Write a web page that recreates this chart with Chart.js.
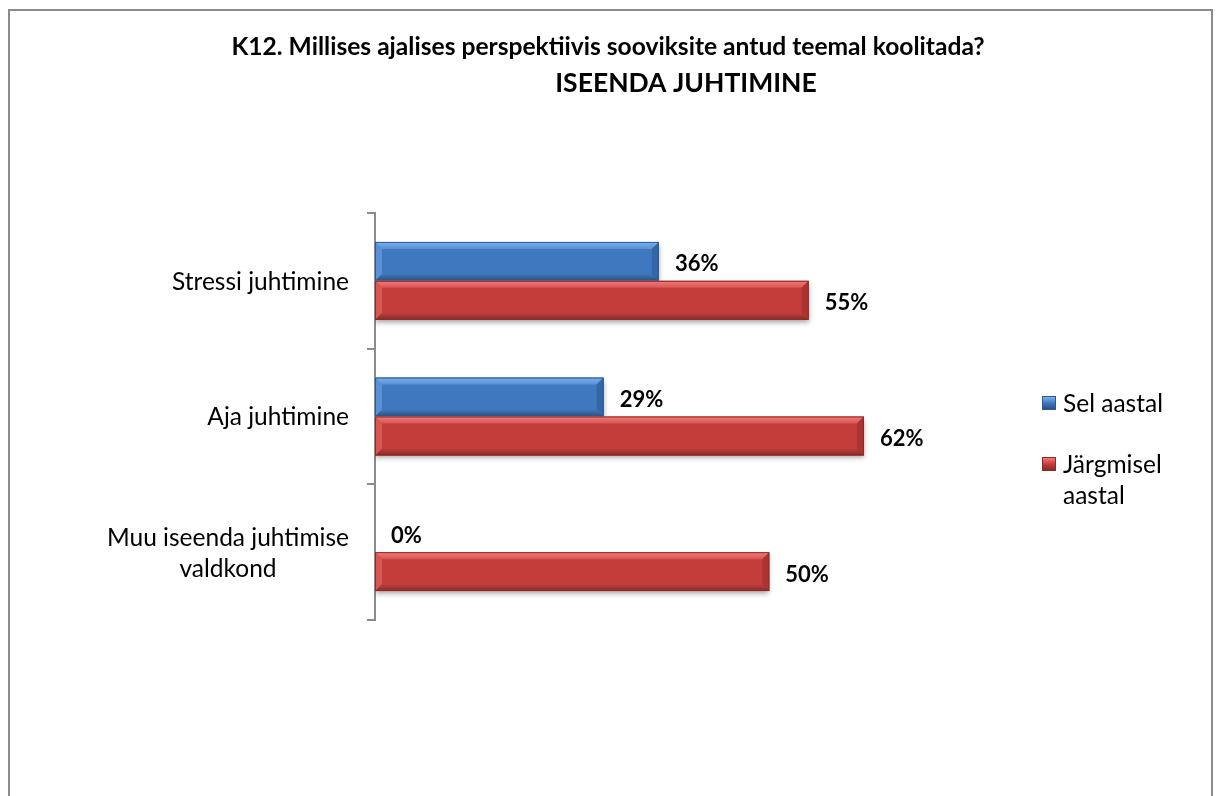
<!DOCTYPE html>
<html>
<head>
<meta charset="utf-8">
<title>K12 – Iseenda juhtimine</title>
<script src="https://cdn.jsdelivr.net/npm/chart.js@4"></script>
<style>
    html, body { margin: 0; padding: 0; background: #fff; overflow: hidden; }
    #wrap { position: relative; width: 1216px; height: 796px; }
    #frame {
        position: absolute; left: 8px; top: 9px; width: 1201px; height: 820px;
        border: 2px solid #8c8c8c; pointer-events: none;
    }
    #legend {
        position: absolute; left: 1042px; top: 387px;
        font-family: "Lato", "Open Sans", sans-serif; font-size: 24.5px; color: #000;
    }
    .item { display: flex; align-items: flex-start; margin-bottom: 30px; line-height: 31px; }
    .box { width: 14px; height: 14px; margin-top: 9px; margin-right: 7px; box-sizing: border-box; }
</style>
</head>
<body>
<div id="wrap">
    <canvas id="chart" width="1216" height="796"></canvas>
    <div id="frame"></div>
    <div id="legend"></div>
</div>
<script>
const categories = [["Stressi juhtimine"], ["Aja juhtimine"], ["Muu iseenda juhtimise", "valdkond"]];
const seriesNames = ["Sel aastal", ["Järgmisel", "aastal"]];
const selAastal = [36, 29, 0];
const jargmiselAastal = [55, 62, 50];
const titleLines = ["K12. Millises ajalises perspektiivis sooviksite antud teemal koolitada?", "ISEENDA JUHTIMINE"];

const FONT = '"Lato", "Open Sans", sans-serif';
const palette = [
    { body: "#3f78bf", light: "#79b2ee", dark: "#29507f", side: "#5a90d4", right: "#3466a6", edge: "#2b5a93" },
    { body: "#c33d3b", light: "#f47a77", dark: "#872a28", side: "#d85654", right: "#a93432", edge: "#8e2a28" },
];

// bevelled look on top of the plain bars
const bevelPlugin = {
    id: "bevel",
    beforeDatasetsDraw(chart) {
        const ctx = chart.ctx;
        ctx.save();
        ctx.shadowColor = "rgba(0,0,0,0.35)";
        ctx.shadowBlur = 5;
        ctx.shadowOffsetY = 3;
    },
    afterDatasetsDraw(chart) {
        const ctx = chart.ctx;
        ctx.restore();
        chart.data.datasets.forEach((ds, di) => {
            const col = palette[di];
            chart.getDatasetMeta(di).data.forEach((bar) => {
                const { x, y, base, height } = bar.getProps(["x", "y", "base", "height"], true);
                const left = Math.min(x, base), right = Math.max(x, base);
                if (right - left < 1) return;
                const top = y - height / 2, bottom = y + height / 2;
                const b = Math.min(7, (right - left) / 2);
                const poly = (pts, fill) => {
                    ctx.beginPath();
                    ctx.moveTo(pts[0][0], pts[0][1]);
                    pts.slice(1).forEach((p) => ctx.lineTo(p[0], p[1]));
                    ctx.closePath();
                    ctx.fillStyle = fill;
                    ctx.fill();
                };
                ctx.save();
                const topGrad = ctx.createLinearGradient(0, top, 0, top + b);
                topGrad.addColorStop(0, col.light);
                topGrad.addColorStop(1, col.side);
                poly([[left, top], [right, top], [right - b, top + b], [left + b, top + b]], topGrad);
                const botGrad = ctx.createLinearGradient(0, bottom - b, 0, bottom);
                botGrad.addColorStop(0, col.body);
                botGrad.addColorStop(1, col.dark);
                poly([[left, bottom], [right, bottom], [right - b, bottom - b], [left + b, bottom - b]], botGrad);
                poly([[left, top], [left + b, top + b], [left + b, bottom - b], [left, bottom]], col.side);
                poly([[right, top], [right - b, top + b], [right - b, bottom - b], [right, bottom]], col.right);
                ctx.strokeStyle = col.edge;
                ctx.lineWidth = 1;
                ctx.strokeRect(left + 0.5, top + 0.5, right - left - 1, bottom - top - 1);
                ctx.restore();
            });
        });
    },
};

// value labels after each bar
const valueLabels = {
    id: "valueLabels",
    afterDraw(chart) {
        const ctx = chart.ctx;
        ctx.save();
        ctx.font = "bold 22px " + FONT;
        ctx.fillStyle = "#000";
        ctx.textAlign = "left";
        ctx.textBaseline = "middle";
        chart.data.datasets.forEach((ds, di) => {
            chart.getDatasetMeta(di).data.forEach((bar, i) => {
                ctx.fillText(ds.data[i] + "%", bar.x + 16, bar.y + 3);
            });
        });
        ctx.restore();
    },
};

// category names left of the axis, lines centred within the block
const categoryLabels = {
    id: "categoryLabels",
    afterDraw(chart) {
        const ctx = chart.ctx;
        const yScale = chart.scales.y;
        const right = yScale.right - 26;
        const lineH = 31;
        ctx.save();
        ctx.font = "24.5px " + FONT;
        ctx.fillStyle = "#000";
        ctx.textAlign = "center";
        ctx.textBaseline = "middle";
        categories.forEach((lines, i) => {
            const cy = yScale.getPixelForValue(i);
            const w = Math.max(...lines.map((l) => ctx.measureText(l).width));
            const cx = right - w / 2;
            lines.forEach((l, k) => {
                ctx.fillText(l, cx, cy + (k - (lines.length - 1) / 2) * lineH + 1);
            });
        });
        ctx.restore();
    },
};

const titlePlugin = {
    id: "twoLineTitle",
    afterDraw(chart) {
        const ctx = chart.ctx;
        ctx.save();
        ctx.fillStyle = "#000";
        ctx.textAlign = "center";
        ctx.textBaseline = "alphabetic";
        ctx.font = "bold 24.6px " + FONT;
        ctx.fillText(titleLines[0], 608, 55);
        ctx.font = "bold 26.5px " + FONT;
        ctx.fillText(titleLines[1], 686, 92);
        ctx.restore();
    },
};

const ctx = document.getElementById("chart").getContext("2d");
new Chart(ctx, {
    type: "bar",
    data: {
        labels: categories.map((c) => c.join(" ")),
        datasets: [
            {
                label: "Sel aastal",
                data: selAastal,
                backgroundColor: palette[0].body,
                borderWidth: 0,
            },
            {
                label: "Järgmisel aastal",
                data: jargmiselAastal,
                backgroundColor: palette[1].body,
                borderWidth: 0,
            },
        ],
    },
    options: {
        indexAxis: "y",
        responsive: false,
        animation: false,
        events: [],
        layout: { padding: { left: 367, right: 289, top: 213, bottom: 176 } },
        datasets: { bar: { categoryPercentage: 0.574, barPercentage: 1.0 } },
        scales: {
            x: { display: false, min: 0, max: 70 },
            y: {
                grid: {
                    offset: true,
                    drawOnChartArea: false,
                    tickLength: 8,
                    color: "#8c8c8c",
                    lineWidth: 2,
                },
                border: { display: true, color: "#8c8c8c", width: 2 },
                ticks: { display: false },
            },
        },
        plugins: {
            legend: { display: false },
            title: { display: false },
            tooltip: { enabled: false },
        },
    },
    plugins: [bevelPlugin, valueLabels, categoryLabels, titlePlugin],
});

// legend as html so the long name can wrap
const legendEl = document.getElementById("legend");
seriesNames.forEach((name, i) => {
    const item = document.createElement("div");
    item.className = "item";
    const box = document.createElement("div");
    box.className = "box";
    box.style.background = `linear-gradient(${palette[i].light}, ${palette[i].body} 50%, ${palette[i].dark})`;
    box.style.border = `1px solid ${palette[i].edge}`;
    const txt = document.createElement("div");
    txt.innerHTML = [].concat(name).join("<br>");
    item.appendChild(box);
    item.appendChild(txt);
    legendEl.appendChild(item);
});
</script>
</body>
</html>
